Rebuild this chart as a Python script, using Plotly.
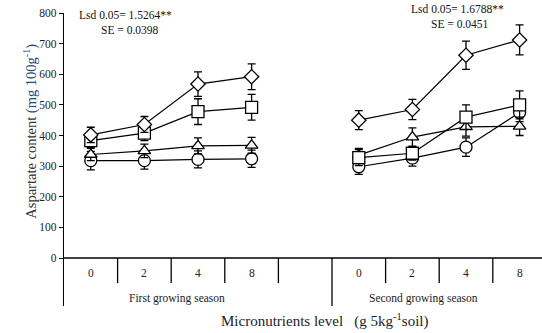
import plotly.graph_objects as go

levels = ["0", "2", "4", "8"]
seasons = ["First growing season", "Second growing season"]

# values per season (first, second), per level
diamond_s1 = [402, 436, 568, 592]
diamond_s2 = [450, 485, 662, 712]
diamond_e1 = [25, 26, 40, 42]
diamond_e2 = [31, 33, 46, 49]

square_s1 = [383, 408, 478, 492]
square_s2 = [328, 342, 460, 500]
square_e1 = [22, 25, 42, 42]
square_e2 = [26, 22, 40, 46]

triangle_s1 = [338, 350, 366, 368]
triangle_s2 = [336, 395, 428, 430]
triangle_e1 = [20, 22, 26, 26]
triangle_e2 = [22, 30, 30, 30]

circle_s1 = [318, 318, 322, 324]
circle_s2 = [298, 326, 362, 475]
circle_e1 = [30, 28, 28, 28]
circle_e2 = [25, 26, 30, 30]

yticks = [0, 100, 200, 300, 400, 500, 600, 700, 800]

n = len(levels)
x1 = [i + 0.5 for i in range(n)]
x2 = [i + n + 1.5 for i in range(n)]

FONT = "Liberation Serif"
fig = go.Figure()

series = [
    ("circle", circle_s1, circle_s2, circle_e1, circle_e2, 12),
    ("triangle-up", triangle_s1, triangle_s2, triangle_e1, triangle_e2, 11),
    ("square", square_s1, square_s2, square_e1, square_e2, 12),
    ("diamond", diamond_s1, diamond_s2, diamond_e1, diamond_e2, 11),
]
for sym, s1, s2, e1, e2, sz in series:
    for xs, ys, es in ((x1, s1, e1), (x2, s2, e2)):
        fig.add_trace(go.Scatter(
            x=xs, y=ys, mode="lines+markers",
            line=dict(color="black", width=1.2),
            marker=dict(symbol=sym, size=sz, color="white",
                        line=dict(color="black", width=1.3)),
            error_y=dict(type="data", array=es, visible=True,
                         color="black", thickness=1.3, width=4),
            showlegend=False, cliponaxis=False,
        ))

shapes = []
shapes.append(dict(type="line", xref="x", yref="y", x0=0, x1=9.5, y0=0, y1=0,
                   line=dict(color="black", width=1.3)))
total = 2 * n + 1
for k in range(1, total):
    long = (k == n + 1)
    shapes.append(dict(type="line", xref="x", yref="y", x0=k, x1=k,
                       y0=0, y1=-157 if long else -82,
                       line=dict(color="black", width=1.3)))

annotations = []
for i, lab in enumerate(levels):
    for xs in (x1, x2):
        annotations.append(dict(x=xs[i], y=-49, xref="x", yref="y", text=lab,
                                showarrow=False, font=dict(family=FONT, size=11.5, color="#222")))
annotations.append(dict(x=(x1[0] + x1[-1]) / 2 + 0.1, y=0.027, xref="x", yref="paper",
                        text=seasons[0], showarrow=False, yanchor="middle",
                        font=dict(family=FONT, size=11.5, color="#222")))
annotations.append(dict(x=(x2[0] + x2[-1]) / 2 - 0.3, y=0.027, xref="x", yref="paper",
                        text=seasons[1], showarrow=False, yanchor="middle",
                        font=dict(family=FONT, size=11.5, color="#222")))
annotations.append(dict(x=0.546, y=-0.05, xref="paper", yref="paper",
                        text="Micronutrients level&nbsp;&nbsp;&nbsp;(g 5kg<sup>-1</sup>soil)",
                        showarrow=False, yanchor="middle",
                        font=dict(family=FONT, size=15, color="#222")))
annotations.append(dict(x=0.24, y=793, xref="x", yref="y", xanchor="left",
                        text="Lsd 0.05= 1.5264**", showarrow=False,
                        font=dict(family=FONT, size=11.5, color="#111")))
annotations.append(dict(x=1.23, y=744, xref="x", yref="y",
                        text="SE = 0.0398", showarrow=False,
                        font=dict(family=FONT, size=11.5, color="#111")))
annotations.append(dict(x=7.35, y=1.0137, xref="x", yref="paper", yanchor="middle",
                        text="Lsd 0.05= 1.6788**", showarrow=False,
                        font=dict(family=FONT, size=11.5, color="#111")))
annotations.append(dict(x=7.39, y=764, xref="x", yref="y",
                        text="SE = 0.0451", showarrow=False,
                        font=dict(family=FONT, size=11.5, color="#111")))
annotations.append(dict(x=-0.096, y=0.597, xref="paper", yref="paper", textangle=-90,
                        text="<span style='color:#333333'>Aspartate content </span>"
                             "<span style='color:#1F497D'>(mg 100g<sup>-1</sup>)</span>",
                        showarrow=False,
                        font=dict(family=FONT, size=14.5, color="#333333")))

fig.update_layout(
    width=542, height=333,
    margin=dict(l=64, r=0, t=13, b=27),
    paper_bgcolor="white", plot_bgcolor="white",
    shapes=shapes, annotations=annotations,
    xaxis=dict(range=[0, 478 / 53.6], showgrid=False, zeroline=False,
               showline=False, showticklabels=False, ticks=""),
    yaxis=dict(range=[-156.7, 800], showgrid=False, zeroline=False,
               showline=True, linecolor="black", linewidth=1.3,
               tickvals=yticks, ticks="outside", ticklen=4, tickwidth=1.3,
               tickcolor="black",
               tickfont=dict(family=FONT, size=11.5, color="#222")),
)

fig.write_html("out.html")
